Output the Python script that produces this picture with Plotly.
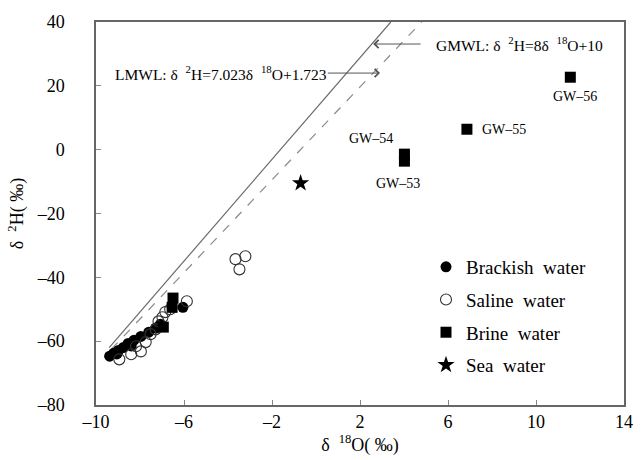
import plotly.graph_objects as go

# ---- data ----
brackish_x = [-9.38, -9.20, -8.98, -8.76, -8.54, -8.27, -7.96, -7.60, -7.29, -7.07, -6.05, -9.05, -8.40]
brackish_y = [-64.7, -63.8, -62.9, -62.0, -60.7, -59.7, -58.5, -57.2, -55.9, -54.7, -49.4, -64.0, -61.5]

saline_x = [-8.94, -8.40, -7.96, -8.18, -7.74, -7.52, -7.29, -7.16, -6.98, -6.85, -6.63, -5.87, -3.66, -3.21, -3.48]
saline_y = [-65.7, -64.1, -63.2, -61.6, -60.3, -57.8, -56.3, -53.8, -52.5, -50.9, -50.0, -47.5, -34.3, -33.4, -37.5]

brine_x = [-6.50, -6.54, -6.94, 4.02, 4.02, 6.86, 11.56]
brine_y = [-46.5, -49.4, -55.6, -3.6, -1.4, 6.4, 22.7]
brine_labels = ["", "", "", "GW-53", "GW-54", "GW-55", "GW-56"]

sea_x = [-0.70]
sea_y = [-10.5]

gmwl_x = [-9.4, 3.4]
gmwl_y = [-62.0, 40.0]
lmwl_x = [-9.3, 4.8]
lmwl_y = [-62.5, 40.0]

x_ticks = [-10, -6, -2, 2, 6, 10, 14]
y_ticks = [-80, -60, -40, -20, 0, 20, 40]

FONT = "Liberation Serif"

fig = go.Figure()

fig.add_trace(go.Scatter(x=gmwl_x, y=gmwl_y, mode="lines", showlegend=False,
                         line=dict(color="#6a6a6a", width=1.2), hoverinfo="skip"))
fig.add_trace(go.Scatter(x=lmwl_x, y=lmwl_y, mode="lines", showlegend=False,
                         line=dict(color="#8a8a8a", width=1.2, dash="dash"), hoverinfo="skip"))

fig.add_trace(go.Scatter(x=brackish_x, y=brackish_y, mode="markers", name="Brackish  water",
                         legendgroup="a",
                         marker=dict(symbol="circle", size=11, color="black")))
fig.add_trace(go.Scatter(x=saline_x, y=saline_y, mode="markers", name="Saline  water",
                         legendgroup="b",
                         marker=dict(symbol="circle-open", size=11, color="#333333",
                                     line=dict(width=1.1))))
fig.add_trace(go.Scatter(x=brine_x, y=brine_y, mode="markers", name="Brine  water",
                         legendgroup="c",
                         marker=dict(symbol="square", size=11, color="black")))
fig.add_trace(go.Scatter(x=sea_x, y=sea_y, mode="markers", name="Sea  water",
                         legendgroup="d",
                         marker=dict(symbol="star", size=13, color="black")))

# sample labels
label_pos = {
    "GW-53": (-0.3, -7.0, "center"),
    "GW-54": (-1.5, 5.0, "center"),
    "GW-55": (0.6, 0.0, "left"),
    "GW-56": (0.2, -6.0, "center"),
}
for lx, ly, lab in zip(brine_x, brine_y, brine_labels):
    if not lab:
        continue
    dx, dy, anc = label_pos[lab]
    fig.add_annotation(x=lx + dx, y=ly + dy, text=lab.replace("-", "–"), showarrow=False,
                       xanchor=anc, yanchor="middle",
                       font=dict(family=FONT, size=14, color="black"))

# equation labels with arrows
fig.add_annotation(x=2.6, y=33.1, ax=4.82, ay=33.1, axref="x", ayref="y",
                   text="", showarrow=True, arrowhead=4, arrowsize=1.6, arrowwidth=1,
                   arrowcolor="#555555")
fig.add_annotation(x=5.35, y=33.1, text="GMWL: δ  <sup>2</sup>H=8δ  <sup>18</sup>O+10",
                   showarrow=False, xanchor="left", yanchor="middle",
                   font=dict(family=FONT, size=15.5, color="black"))
fig.add_annotation(x=2.91, y=24.0, ax=0.47, ay=24.0, axref="x", ayref="y",
                   text="", showarrow=True, arrowhead=4, arrowsize=1.6, arrowwidth=1,
                   arrowcolor="#555555")
fig.add_annotation(x=0.6, y=24.0, text="LMWL: δ  <sup>2</sup>H=7.023δ  <sup>18</sup>O+1.723",
                   showarrow=False, xanchor="right", yanchor="middle",
                   font=dict(family=FONT, size=15.5, color="black"))

axis_common = dict(showgrid=False, zeroline=False, showline=True, linecolor="#666666",
                   linewidth=1.5, mirror=True, ticks="inside", ticklen=5, tickcolor="#888888",
                   tickfont=dict(family=FONT, size=18, color="black"))

fig.update_xaxes(range=[-10, 14], tickvals=x_ticks, ticktext=[f"{v:g}".replace("-", "–") for v in x_ticks],
                 title=dict(text="δ  <sup>18</sup>O( ‰)", font=dict(family=FONT, size=18, color="black"),
                            standoff=6),
                 **axis_common)
fig.update_yaxes(range=[-80, 40], tickvals=y_ticks, ticktext=[f"{v:g}".replace("-", "–") for v in y_ticks],
                 ticklabelstandoff=26,
                 title=dict(text="δ  <sup>2</sup>H( ‰)", font=dict(family=FONT, size=18, color="black"),
                            standoff=8),
                 **axis_common)

fig.update_layout(
    width=642, height=460,
    margin=dict(l=96, r=9, t=22, b=55),
    paper_bgcolor="white", plot_bgcolor="white",
    legend=dict(x=0.625, y=0.41, xanchor="left", yanchor="top", bgcolor="rgba(0,0,0,0)",
                font=dict(family=FONT, size=19, color="black"),
                traceorder="grouped", tracegroupgap=5, itemwidth=30),
)

fig.write_html("out.html")
